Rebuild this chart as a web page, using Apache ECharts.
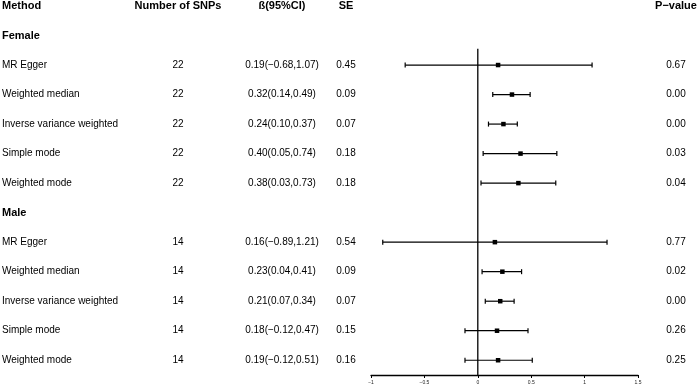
<!DOCTYPE html>
<html>
<head>
<meta charset="utf-8">
<script src="https://cdn.jsdelivr.net/npm/echarts@6/dist/echarts.min.js"></script>
<style>
  html, body { margin: 0; padding: 0; background: #fff; }
  #forest { width: 699px; height: 388px; }
</style>
</head>
<body>
<div id="forest"></div>
<script>
// rows of the table, top to bottom (header row is row 0)
var groups = ['Female', 'Male'];
var methods = ['MR Egger', 'Weighted median', 'Inverse variance weighted', 'Simple mode', 'Weighted mode'];
var nSnps = [22, 14];
// estimates per group, same order as methods
var betaFemale = [0.19, 0.32, 0.24, 0.40, 0.38];
var lowFemale  = [-0.68, 0.14, 0.10, 0.05, 0.03];
var highFemale = [1.07, 0.49, 0.37, 0.74, 0.73];
var seFemale   = [0.45, 0.09, 0.07, 0.18, 0.18];
var pFemale    = ['0.67', '0.00', '0.00', '0.03', '0.04'];
var betaMale = [0.16, 0.23, 0.21, 0.18, 0.19];
var lowMale  = [-0.89, 0.04, 0.07, -0.12, -0.12];
var highMale = [1.21, 0.41, 0.34, 0.47, 0.51];
var seMale   = [0.54, 0.09, 0.07, 0.15, 0.16];
var pMale    = ['0.77', '0.02', '0.00', '0.26', '0.25'];
var headers = ['Method', 'Number of SNPs', 'ß(95%CI)', 'SE', 'P\u2212value'];
var xTicks = [-1, -0.5, 0, 0.5, 1, 1.5];

var FONT = '"Liberation Sans", Arial, Helvetica, sans-serif';
var fmt = function (v) { return v.toFixed(2).replace('-', '\u2212'); };

// build table + forest rows
var allGroups = [
  { name: groups[0], n: nSnps[0], b: betaFemale, lo: lowFemale, hi: highFemale, se: seFemale, p: pFemale },
  { name: groups[1], n: nSnps[1], b: betaMale, lo: lowMale, hi: highMale, se: seMale, p: pMale }
];
var textRows = [];   // [colX, row, text, align, bold]
var forestRows = []; // [row, beta, lo, hi]
var colX = [2, 178, 282, 346, 676];
var colAlign = ['left', 'center', 'center', 'center', 'center'];
headers.forEach(function (h, i) { textRows.push([colX[i], 0, h, colAlign[i], 1]); });
var row = 1;
allGroups.forEach(function (g) {
  textRows.push([colX[0], row, g.name, 'left', 1]);
  row++;
  methods.forEach(function (m, i) {
    textRows.push([colX[0], row, m, 'left', 0]);
    textRows.push([colX[1], row, String(g.n), 'center', 0]);
    textRows.push([colX[2], row, fmt(g.b[i]) + '(' + fmt(g.lo[i]) + ',' + fmt(g.hi[i]) + ')', 'center', 0]);
    textRows.push([colX[3], row, fmt(g.se[i]), 'center', 0]);
    textRows.push([colX[4], row, g.p[i], 'center', 0]);
    forestRows.push([row, g.b[i], g.lo[i], g.hi[i]]);
    row++;
  });
});

var chart = echarts.init(document.getElementById('forest'));
var option = {
  animation: false,
  grid: [
    { left: 371, right: 61, top: 6, bottom: 13 },
    { left: 0, right: 0, top: 6, bottom: 13 }
  ],
  xAxis: [
    {
      gridIndex: 0, type: 'value', min: -1, max: 1.5, interval: 0.5,
      splitLine: { show: false },
      axisLine: { show: true, onZero: false, lineStyle: { color: '#000', width: 1.3 } },
      axisTick: { show: true, length: 3, lineStyle: { color: '#000', width: 1 } },
      axisLabel: {
        fontSize: 5, color: '#222', margin: 5, fontFamily: FONT,
        formatter: function (v) { return xTicks.indexOf(v) >= 0 ? String(v).replace('-', '\u2212') : ''; }
      }
    },
    { gridIndex: 1, type: 'value', min: 0, max: 699, show: false }
  ],
  yAxis: [
    { gridIndex: 0, type: 'value', min: 0, max: 12.5, inverse: true, show: false },
    { gridIndex: 1, type: 'value', min: 0, max: 12.5, inverse: true, show: false }
  ],
  series: [
    {
      // table text
      type: 'custom', xAxisIndex: 1, yAxisIndex: 1,
      data: textRows,
      renderItem: function (params, api) {
        var d = textRows[params.dataIndex];
        var pt = api.coord([d[0], d[1]]);
        return {
          type: 'text',
          style: {
            x: pt[0], y: pt[1], text: d[2],
            textAlign: d[3], textVerticalAlign: 'middle',
            font: (d[4] ? 'bold 11px ' : '10px ') + FONT,
            fill: '#000'
          }
        };
      }
    },
    {
      // reference line at zero
      type: 'line', xAxisIndex: 0, yAxisIndex: 0,
      data: [[0, 1.45], [0, 12.5]],
      symbol: 'none', lineStyle: { color: '#000', width: 1.3 }, silent: true
    },
    {
      // CI bars + squares
      type: 'custom', xAxisIndex: 0, yAxisIndex: 0,
      data: forestRows,
      renderItem: function (params, api) {
        var r = api.value(0);
        var c = api.coord([api.value(1), r]);
        var l = api.coord([api.value(2), r]);
        var h = api.coord([api.value(3), r]);
        var cap = 2.5, sq = 4.5;
        var ls = { stroke: '#000', lineWidth: 1.2 };
        return {
          type: 'group',
          children: [
            { type: 'line', shape: { x1: l[0], y1: l[1], x2: h[0], y2: h[1] }, style: ls },
            { type: 'line', shape: { x1: l[0], y1: l[1] - cap, x2: l[0], y2: l[1] + cap }, style: ls },
            { type: 'line', shape: { x1: h[0], y1: h[1] - cap, x2: h[0], y2: h[1] + cap }, style: ls },
            { type: 'rect', shape: { x: c[0] - sq / 2, y: c[1] - sq / 2, width: sq, height: sq }, style: { fill: '#000' } }
          ]
        };
      }
    }
  ]
};
chart.setOption(option);
</script>
</body>
</html>
